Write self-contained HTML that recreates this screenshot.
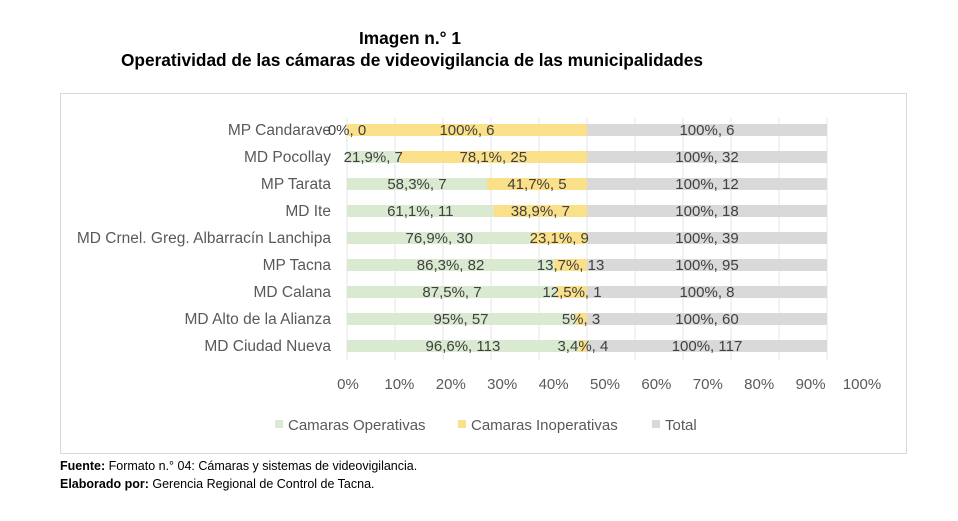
<!DOCTYPE html>
<html><head><meta charset="utf-8"><style>
body{margin:0;background:#fff;width:958px;height:516px;overflow:hidden;font-family:"Liberation Sans",sans-serif;}
svg text{font-family:"Liberation Sans",sans-serif;}
</style></head><body>
<svg width="958" height="516">
<text x="410" y="44" text-anchor="middle" font-size="17.3" font-weight="bold" fill="#000">Imagen n.° 1</text>
<text x="412" y="66" text-anchor="middle" font-size="17.3" font-weight="bold" fill="#000">Operatividad de las cámaras de videovigilancia de las municipalidades</text>
<rect x="60.5" y="93.5" width="846" height="360" fill="#fff" stroke="#d9d9d9"/>
<g id="grid"></g><g id="bars"></g><g id="labels"></g>
<g>
<rect x="275" y="420" width="8" height="8" fill="#d9ead0"/>
<text x="288" y="430" font-size="15" fill="#595959">Camaras Operativas</text>
<rect x="458" y="420" width="8" height="8" fill="#fbe08a"/>
<text x="471" y="430" font-size="15" fill="#595959">Camaras Inoperativas</text>
<rect x="652" y="420" width="8" height="8" fill="#d9d9d9"/>
<text x="665" y="430" font-size="15" fill="#595959">Total</text>
</g>
<text x="60" y="470" font-size="12.5" fill="#000"><tspan font-weight="bold">Fuente:</tspan> Formato n.° 04: Cámaras y sistemas de videovigilancia.</text>
<text x="60" y="488" font-size="12.5" fill="#000"><tspan font-weight="bold">Elaborado por:</tspan> Gerencia Regional de Control de Tacna.</text>
</svg>
<script>
const categories=["MP Candarave","MD Pocollay","MP Tarata","MD Ite","MD Crnel. Greg. Albarracín Lanchipa","MP Tacna","MD Calana","MD Alto de la Alianza","MD Ciudad Nueva"];
const opPct=[0,21.9,58.3,61.1,76.9,86.3,87.5,95,96.6];
const opCount=[0,7,7,11,30,82,7,57,113];
const inPct=[100,78.1,41.7,38.9,23.1,13.7,12.5,5,3.4];
const inCount=[6,25,5,7,9,13,1,3,4];
const totalCount=[6,32,12,18,39,95,8,60,117];
const tickLabels=["0%","10%","20%","30%","40%","50%","60%","70%","80%","90%","100%"];
const NS="http://www.w3.org/2000/svg";
const x0=347,x1=827;
const xs=v=>x0+(v/200)*(x1-x0);
const ys=i=>130+i*27;
function mk(tag,attrs,parent){const e=document.createElementNS(NS,tag);for(const k in attrs)e.setAttribute(k,attrs[k]);parent.appendChild(e);return e;}
const grid=document.getElementById('grid'),bars=document.getElementById('bars'),labels=document.getElementById('labels');
tickLabels.forEach((t,i)=>{
 const gx=x0+i*(x1-x0)/10;
 const l=mk('line',{x1:gx,x2:gx,y1:118,y2:360,stroke:'#e6e6e6'},grid);
 
 
 const tx=348+i*51.4;
 const tt=mk('text',{x:tx,y:389,'text-anchor':'middle','font-size':15,fill:'#595959'},labels);
 tt.textContent=t;
 
 
});
categories.forEach((c,i)=>{
 const y=ys(i);
 const cl=mk('text',{x:331,y:y+5,'text-anchor':'end','font-size':15.5,fill:'#595959'},labels);
 cl.textContent=c;
 
 
 const g=mk('rect',{x:xs(0),y:y-6,width:xs(opPct[i])-xs(0),height:12,fill:'#d9ead0'},bars);
 
 
 const yb=mk('rect',{x:xs(opPct[i]),y:y-6,width:xs(opPct[i]+inPct[i])-xs(opPct[i]),height:12,fill:'#fbe08a'},bars);
 
 
 const tb=mk('rect',{x:xs(100),y:y-6,width:xs(200)-xs(100),height:12,fill:'#d9d9d9'},bars);
 
 
 const a=mk('text',{x:(xs(0)+xs(opPct[i]))/2,y:y+5,'text-anchor':'middle','font-size':15,fill:'#404040'},labels);
 a.textContent=String(opPct[i]).replace('.',',')+'%, '+opCount[i];
 
 
 const b=mk('text',{x:(xs(opPct[i])+xs(opPct[i]+inPct[i]))/2,y:y+5,'text-anchor':'middle','font-size':15,fill:'#404040'},labels);
 b.textContent=String(inPct[i]).replace('.',',')+'%, '+inCount[i];
 
 
 const t=mk('text',{x:(xs(100)+xs(200))/2,y:y+5,'text-anchor':'middle','font-size':15,fill:'#404040'},labels);
 t.textContent='100%, '+totalCount[i];
 
 
});
</script>
</body></html>
